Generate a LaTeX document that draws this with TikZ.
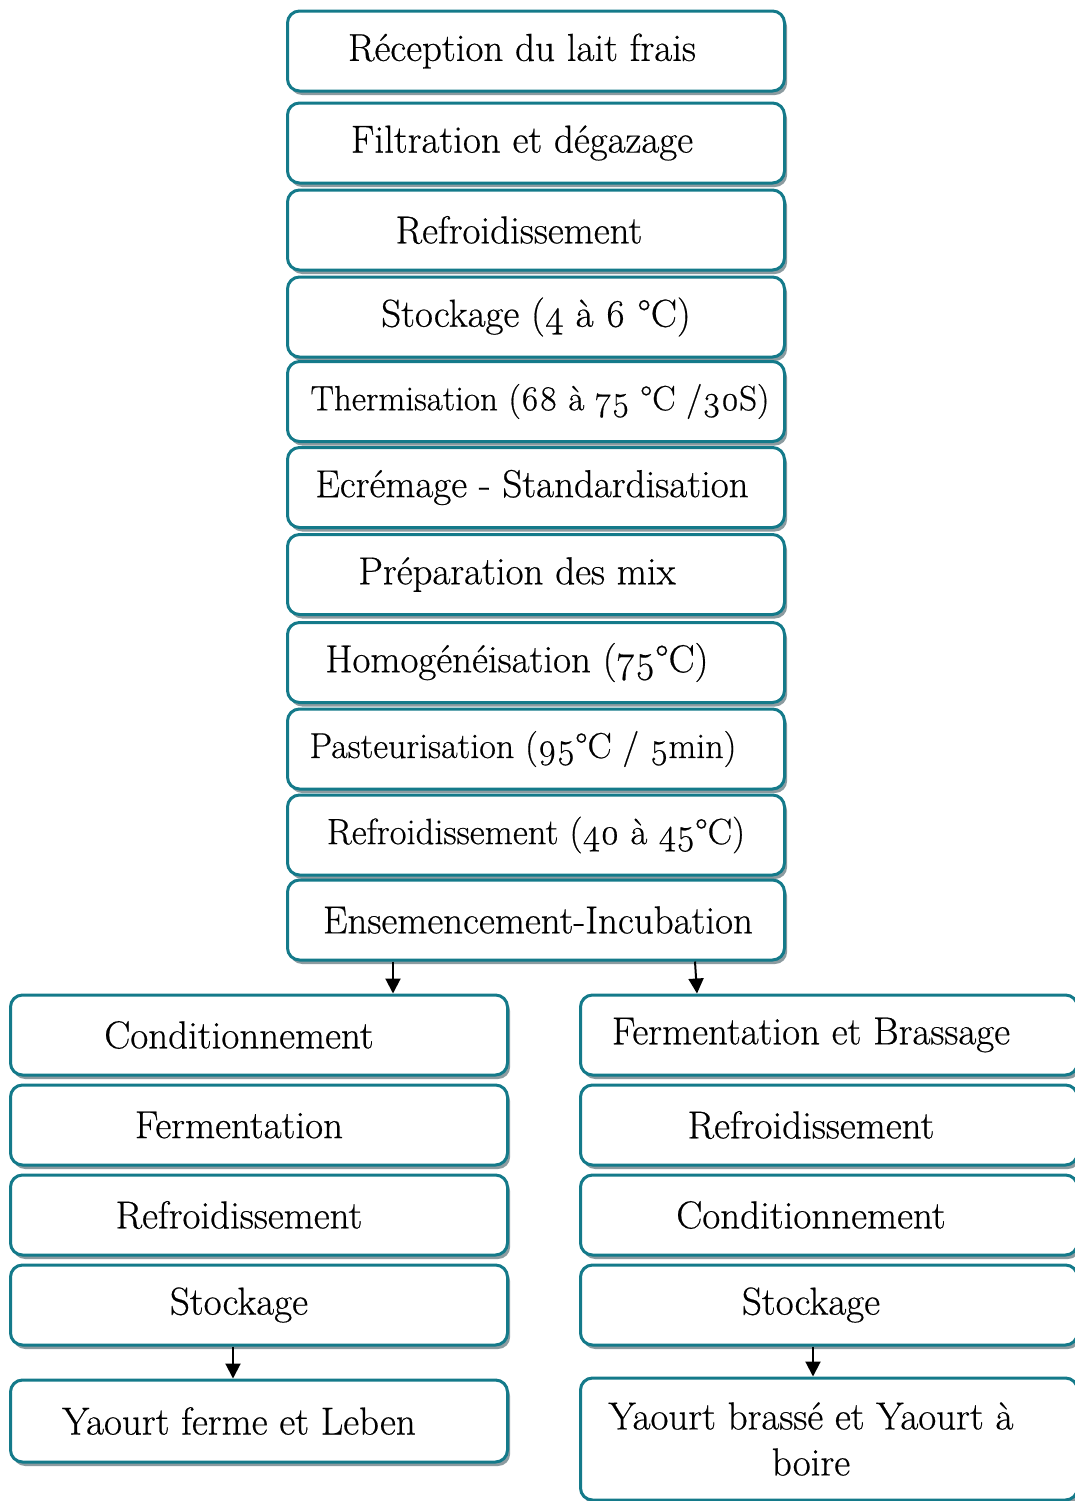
\documentclass[tikz,border=0pt]{standalone}
\usepackage{fontspec}
\setmainfont{Latin Modern Roman}[FakeBold=0.5]
\usetikzlibrary{shadows,arrows.meta}
\definecolor{boxteal}{RGB}{20,122,138}
\definecolor{shade}{RGB}{140,155,160}
\tikzset{
  stepbox/.style={draw=boxteal, line width=1.5pt, rounded corners=6pt, fill=white,
    minimum width=248.5pt, minimum height=40pt, inner sep=2pt, align=center,
    font=\fontsize{19.5}{23}\selectfont,
    drop shadow={shadow xshift=1.3pt, shadow yshift=-2pt, fill=shade, opacity=1}},
  nudge/.style={execute at begin node={\hspace*{#1}}},
  flow/.style={-{Triangle[length=7.5pt,width=7.5pt]}, line width=1pt}
}
\begin{document}
\begin{tikzpicture}[x=0.5pt,y=-0.5pt]
	\useasboundingbox (0,0) rectangle (1075,1501);
	% tronc commun
	\node[stepbox, nudge=-14pt] (recep) at (536,51) {Réception du lait frais};
	\node[stepbox, nudge=-14pt] (filt) at (536,143) {Filtration et dégazage};
	\node[stepbox, nudge=-17pt] (refr) at (536,230) {Refroidissement};
	\node[stepbox] (stock) at (536,317) {Stockage (\oldstylenums{4} à \oldstylenums{6} °C)};
	\node[stepbox, nudge=4pt] (therm) at (536,401.5) {\fontsize{17.5}{21}\selectfont Thermisation (\oldstylenums{68} à \oldstylenums{75} °C /\oldstylenums{30}S)};
	\node[stepbox, nudge=-4pt] (ecrem) at (536,487.5) {Ecrémage - Standardisation};
	\node[stepbox, nudge=-19pt] (prep) at (536,574.5) {Préparation des mix};
	\node[stepbox, nudge=-19pt] (homog) at (536,662.5) {Homogénéisation (\oldstylenums{75}°C)};
	\node[stepbox, nudge=-13pt] (past) at (536,749) {\fontsize{18}{21}\selectfont Pasteurisation (\oldstylenums{95}°C / \oldstylenums{5}min)};
	\node[stepbox] (refrb) at (536,835) {\fontsize{18.3}{21}\selectfont Refroidissement (\oldstylenums{40} à \oldstylenums{45}°C)};
	\node[stepbox, nudge=2pt] (ens) at (536,920) {Ensemencement-Incubation};
	% yaourt ferme
	\node[stepbox, nudge=-20pt] (lcond) at (259,1035) {Conditionnement};
	\node[stepbox, nudge=-20pt] (lferm) at (259,1125) {Fermentation};
	\node[stepbox, nudge=-20pt] (lrefr) at (259,1215) {Refroidissement};
	\node[stepbox, nudge=-20pt] (lstock) at (259,1305) {Stockage};
	\node[stepbox, nudge=-20pt, minimum height=41pt] (lyaourt) at (259,1421) {Yaourt ferme et Leben};
	% yaourt brasse
	\node[stepbox, nudge=-18pt] (rferm) at (829,1035) {Fermentation et Brassage};
	\node[stepbox, nudge=-18pt] (rrefr) at (829,1125) {Refroidissement};
	\node[stepbox, nudge=-18pt] (rcond) at (829,1215) {Conditionnement};
	\node[stepbox, nudge=-18pt] (rstock) at (829,1305) {Stockage};
	\node[stepbox, nudge=-18pt, minimum height=61pt] (ryaourt) at (829,1439) {Yaourt brassé et Yaourt à\\ boire};
	\draw[flow] ([xshift=-71.5pt]ens.south) -- ([xshift=67pt]lcond.north);
	\draw[flow] ([xshift=79.5pt]ens.south) -- ([xshift=-66pt]rferm.north);
	\draw[flow] ([xshift=-13pt]lstock.south) -- ([xshift=-13pt]lyaourt.north);
	\draw[flow] ([xshift=-8pt]rstock.south) -- ([xshift=-8pt]ryaourt.north);
\end{tikzpicture}
\end{document}
